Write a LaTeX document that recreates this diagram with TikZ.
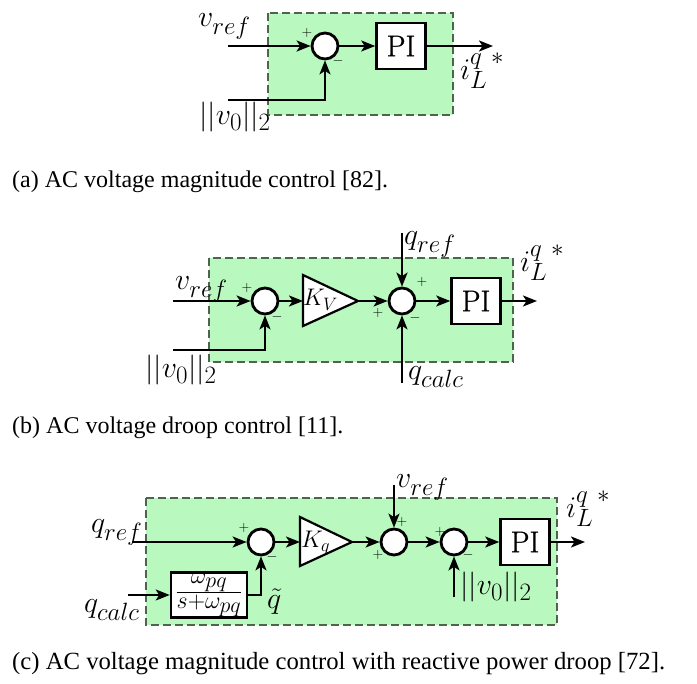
\RequirePackage{fix-cm}
\documentclass[tikz,border=0pt]{standalone}
\usepackage{fontspec}
\newfontfamily\capfont{Liberation Serif}
\newfontfamily\pifont{Latin Modern Roman}[FakeBold=0.8]
\DeclareMathSizes{30}{30}{25}{21}
\DeclareMathSizes{28}{28}{24}{22}
\DeclareMathSizes{24}{24}{18}{14}
\DeclareMathSizes{14}{14}{10}{7}
\usetikzlibrary{arrows.meta}
\definecolor{boxgreen}{RGB}{185,248,190}
\definecolor{boxedge}{RGB}{78,100,78}
\begin{document}
\begin{tikzpicture}[x=1pt,y=-1pt,
  region/.style={fill=boxgreen, draw=boxedge, line width=2.8pt, dash pattern=on 8pt off 4pt},
  sumnode/.style={circle, draw, fill=white, line width=2.8pt, minimum size=26pt, inner sep=0pt},
  blk/.style={draw, fill=white, line width=2.6pt, inner sep=0pt, minimum width=49pt, minimum height=46pt, font=\pifont\fontsize{30}{30}\selectfont},
  filt/.style={draw, fill=white, line width=2.6pt, inner sep=0pt, minimum width=76pt, minimum height=45pt, font=\fontsize{28}{28}\selectfont},
  conn/.style={line width=2pt, -{Stealth[length=14pt,width=11pt,inset=3.5pt]}},
  gainline/.style={draw, fill=white, line width=2.2pt, line join=miter},
  lab/.style={anchor=base west, inner sep=0pt, font=\fontsize{30}{30}\selectfont},
  klab/.style={anchor=base west, inner sep=0pt, font=\fontsize{24}{24}\selectfont},
  sgn/.style={inner sep=0pt, font=\fontsize{14}{14}\selectfont},
  captxt/.style={anchor=base west, inner sep=0pt, font=\capfont\fontsize{24}{24}\selectfont}]
\useasboundingbox (0,0) rectangle (697,684);

% ---------------- (a) ----------------
\draw[region] (268,13) rectangle (453,115);
\node[sumnode] (as1) at (325,46) {};
\node[blk] (api) at (401,46) {PI};
\coordinate (ain) at (228,46);
\coordinate (afb) at (228,100);
\coordinate (aout) at (493,46);
\draw[conn] (ain) -- (as1);
\draw[conn] (as1) -- (api);
\draw[conn] (api) -- (aout);
\draw[conn] (afb) -| (as1);
\node[lab] (avref) at (198,27) {$v_{ref}$};
\node[lab] (avn) at (199,125) {$||v_0||_2$};
\node[lab] (ai) at (460,80) {$i_L^{q\ *}$};
\node[sgn] (ap) at (307,33) {$+$};
\node[sgn] (am) at (338,61) {$-$};
\node[captxt] (capa) at (12,188) {(a) AC voltage magnitude control [82].};

% ---------------- (b) ----------------
\draw[region] (209,258) rectangle (513,362);
\node[sumnode] (bs1) at (265,301) {};
\draw[gainline] (303,275) -- (358,301) -- (303,326) -- cycle;
\coordinate (bkin) at (303,301);
\coordinate (bkout) at (358,301);
\node[klab] (bk) at (303,306) {$K_V$};
\node[sumnode] (bs2) at (402,301) {};
\node[blk] (bpi) at (476,301) {PI};
\coordinate (bin) at (173,301);
\coordinate (bfb) at (173,350);
\coordinate (bqr) at (402,233);
\coordinate (bqc) at (402,383);
\coordinate (bout) at (537,301);
\draw[conn] (bin) -- (bs1);
\draw[conn] (bs1) -- (bkin);
\draw[conn] (bkout) -- (bs2);
\draw[conn] (bs2) -- (bpi);
\draw[conn] (bpi) -- (bout);
\draw[conn] (bfb) -| (bs1);
\draw[conn] (bqr) -- (bs2);
\draw[conn] (bqc) -- (bs2);
\node[lab] (bvref) at (175,290) {$v_{ref}$};
\node[lab] (bvn) at (145,378) {$||v_0||_2$};
\node[lab] (bqref) at (404,245) {$q_{ref}$};
\node[lab] (bqcalc) at (408,380) {$q_{calc}$};
\node[lab] (bi) at (520,272) {$i_L^{q\ *}$};
\node[sgn] (bp1) at (247,288) {$+$};
\node[sgn] (bm1) at (277,317) {$-$};
\node[sgn] (bp2) at (422,282) {$+$};
\node[sgn] (bp3) at (378,313) {$+$};
\node[sgn] (bm2) at (415,318) {$-$};
\node[captxt] (capb) at (12,434) {(b) AC voltage droop control [11].};

% ---------------- (c) ----------------
\draw[region] (146,498) rectangle (557,625);
\node[sumnode] (cs1) at (261,542) {};
\draw[gainline] (300,517) -- (352,542) -- (300,566) -- cycle;
\coordinate (ckin) at (300,542);
\coordinate (ckout) at (352,542);
\node[klab] (ck) at (301,548) {$K_q$};
\node[sumnode] (cs2) at (394,542) {};
\node[sumnode] (cs3) at (454,542) {};
\node[blk] (cpi) at (525,542) {PI};
\node[filt] (cf) at (209,595) {$\frac{\omega_{pq}}{s+\omega_{pq}}$};
\coordinate (cin) at (132,542);
\coordinate (cqc) at (128,595);
\coordinate (cvr) at (394,485);
\coordinate (cvn) at (454,597);
\coordinate (cout) at (585,542);
\draw[conn] (cin) -- (cs1);
\draw[conn] (cs1) -- (ckin);
\draw[conn] (ckout) -- (cs2);
\draw[conn] (cs2) -- (cs3);
\draw[conn] (cs3) -- (cpi);
\draw[conn] (cpi) -- (cout);
\draw[conn] (cvr) -- (cs2);
\draw[conn] (cvn) -- (cs3);
\draw[conn] (cqc) -- (cf);
\draw[conn] (cf.east) -| (cs1);
\node[lab] (cqref) at (91,533) {$q_{ref}$};
\node[lab] (cqcalc) at (84,613) {$q_{calc}$};
\node[lab] (cvref) at (396,488) {$v_{ref}$};
\node[lab] (cvnl) at (460,595) {$||v_0||_2$};
\node[lab] (cqt) at (267,609) {$\tilde q$};
\node[lab] (ci) at (566,518) {$i_L^{q\ *}$};
\node[sgn] (cp1) at (244,528) {$+$};
\node[sgn] (cm1) at (272,557) {$-$};
\node[sgn] (cp2) at (402,522) {$+$};
\node[sgn] (cp3) at (378,555) {$+$};
\node[sgn] (cp4) at (440,532) {$+$};
\node[sgn] (cm2) at (468,555) {$-$};
\node[captxt, font=\capfont\fontsize{24.7}{24.7}\selectfont] (capc) at (12,670) {(c) AC voltage magnitude control with reactive power droop [72].};
\end{tikzpicture}
\end{document}
